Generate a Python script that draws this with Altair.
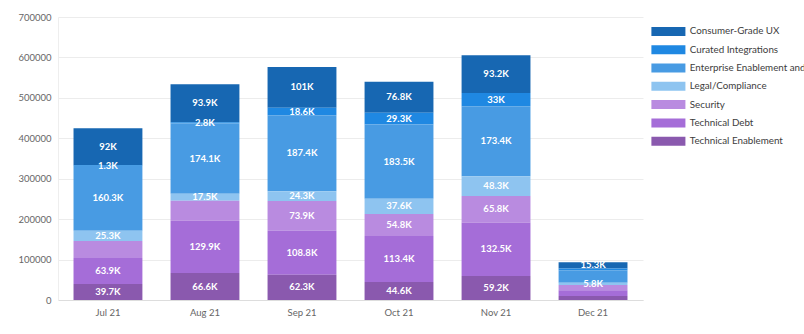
import altair as alt
import pandas as pd

months = ["Jul 21", "Aug 21", "Sep 21", "Oct 21", "Nov 21", "Dec 21"]
series = [
    "Consumer-Grade UX",
    "Curated Integrations",
    "Enterprise Enablement and Scale",
    "Legal/Compliance",
    "Security",
    "Technical Debt",
    "Technical Enablement",
]
colors = ["#1767b2", "#1f88e2", "#489be3", "#8ec4f0", "#b98be0", "#a56dd8", "#8a59ae"]

values = {
    "Consumer-Grade UX":               [92000, 93900, 101000, 76800, 93200, 15300],
    "Curated Integrations":            [1300, 2800, 18600, 29300, 33000, 4000],
    "Enterprise Enablement and Scale": [160300, 174100, 187400, 183500, 173400, 31000],
    "Legal/Compliance":                [25300, 17500, 24300, 37600, 48300, 5800],
    "Security":                        [42500, 48700, 73900, 54800, 65800, 13000],
    "Technical Debt":                  [63900, 129900, 108800, 113400, 132500, 14000],
    "Technical Enablement":            [39700, 66600, 62300, 44600, 59200, 10000],
}
# segments whose value label is not drawn in the reference
unlabelled = [
    ("Jul 21", "Security"), ("Aug 21", "Security"),
    ("Dec 21", "Curated Integrations"), ("Dec 21", "Enterprise Enablement and Scale"),
    ("Dec 21", "Security"), ("Dec 21", "Technical Debt"), ("Dec 21", "Technical Enablement"),
]

rows = []
for s_i, s in enumerate(series):
    for m_i, m in enumerate(months):
        rows.append({
            "month": m,
            "series": s,
            "value": values[s][m_i],
            "rank": len(series) - 1 - s_i,
            "show": (m, s) not in unlabelled,
        })
df = pd.DataFrame(rows)

FONT = "Lato"

base = alt.Chart(df).transform_stack(
    stack="value", groupby=["month"], as_=["y0", "y1"], sort=[alt.SortField("rank", order="ascending")]
)

x_enc = alt.X("month:N", sort=months, title=None,
              scale=alt.Scale(paddingInner=0.29, paddingOuter=0.16),
              axis=alt.Axis(labelAngle=0, ticks=False, tickSize=0, labelPadding=7,
                            labelColor="#666666", labelFontSize=9.5, labelFont=FONT,
                            domainColor="#dddddd", grid=False))

bars = base.mark_bar().encode(
    x=x_enc,
    y=alt.Y("y0:Q", title=None,
            scale=alt.Scale(domain=[0, 700000]),
            axis=alt.Axis(values=list(range(0, 700001, 100000)), format="d",
                          ticks=False, tickSize=0, labelPadding=7,
                          labelColor="#666666", labelFontSize=9.5, labelFont=FONT,
                          domainColor="#eeeeee", gridColor="#ececec")),
    y2="y1:Q",
    color=alt.Color("series:N", sort=series,
                    scale=alt.Scale(domain=series, range=colors),
                    legend=alt.Legend(title=None, orient="none", legendX=593, legendY=9.5,
                                      symbolType="M-1,-1L6.56,-1L6.56,1L-1,1Z",
                                      symbolSize=81, symbolStrokeWidth=0,
                                      labelFont=FONT, labelFontSize=9.8, labelColor="#3d3d3d",
                                      labelLimit=400, rowPadding=7.3, labelOffset=29, padding=0)),
)

labels = base.transform_filter("datum.show").transform_calculate(
    ymid="(datum.y0 + datum.y1) / 2",
    txt="format(datum.value / 1000, '.1~f') + 'K'",
).mark_text(color="white", fontWeight="bold", fontSize=9.5, font=FONT, baseline="middle").encode(
    x=alt.X("month:N", sort=months),
    y=alt.Y("ymid:Q"),
    text="txt:N",
)

chart = alt.layer(bars, labels).properties(
    width=585, height=283,
    autosize=alt.AutoSizeParams(type="none"),
    padding={"left": 58, "top": 17, "right": 161, "bottom": 34},
).configure_view(stroke=None).configure_axis(labelFont=FONT)

chart.save("out.html", embed_options={"renderer": "svg", "actions": False})
